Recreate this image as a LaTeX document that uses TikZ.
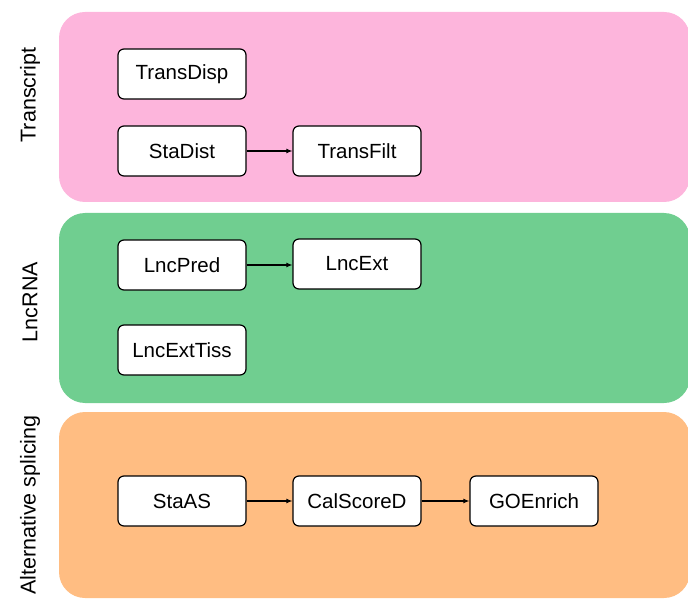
\documentclass[tikz,border=0pt]{standalone}
\usepackage{fontspec}
\setmainfont{Liberation Sans}
\usetikzlibrary{arrows.meta, positioning}

\definecolor{rosa}{RGB}{253,181,220}
\definecolor{gruen}{RGB}{112,206,144}
\definecolor{orange}{RGB}{255,189,130}

\begin{document}
\begin{tikzpicture}[x=1pt, y=1pt, line join=round,
    modul/.style={draw=black, line width=1.2pt, rounded corners=6pt, fill=white,
      minimum width=128pt, minimum height=50pt, inner sep=0pt,
      font=\fontsize{20.5}{23}\selectfont},
    fluss/.style={-{Latex[length=6pt,width=5pt]}, line width=1.1pt},
    ebene/.style={rounded corners=26pt},
    titel/.style={rotate=90, font=\fontsize{21.5}{24}\selectfont}]
    \useasboundingbox (0,0) rectangle (688,598);
    % Ebenen
    \fill[rosa, ebene] (59,396) rectangle (690,586);
    \fill[gruen, ebene] (59,195) rectangle (690,385);
    \fill[orange, ebene] (59,0) rectangle (690,186);
    \node[titel] (tTrans) at (30,503) {Transcript};
    \node[titel] (tLnc) at (30,296) {LncRNA};
    \node[titel] (tAS) at (30,93) {Alternative splicing};
    % Transcript
    \node[modul] (TransDisp) at (182,524) {TransDisp};
    \node[modul] (StaDist) at (182,447) {StaDist};
    \node[modul] (TransFilt) at (357,447) {TransFilt};
    \draw[fluss] (StaDist) -- (TransFilt);
    % LncRNA
    \node[modul] (LncPred) at (182,333) {LncPred};
    \node[modul] (LncExt) at (357,334) {LncExt};
    \node[modul] (LncExtTiss) at (182,248) {LncExtTiss};
    \draw[fluss] (LncPred) -- (LncPred -| LncExt.west);
    % Alternative splicing
    \node[modul] (StaAS) at (182,97) {StaAS};
    \node[modul] (CalScoreD) at (357,97) {CalScoreD};
    \node[modul] (GOEnrich) at (534,97) {GOEnrich};
    \draw[fluss] (StaAS) -- (CalScoreD);
    \draw[fluss] (CalScoreD) -- (GOEnrich);
\end{tikzpicture}
\end{document}
